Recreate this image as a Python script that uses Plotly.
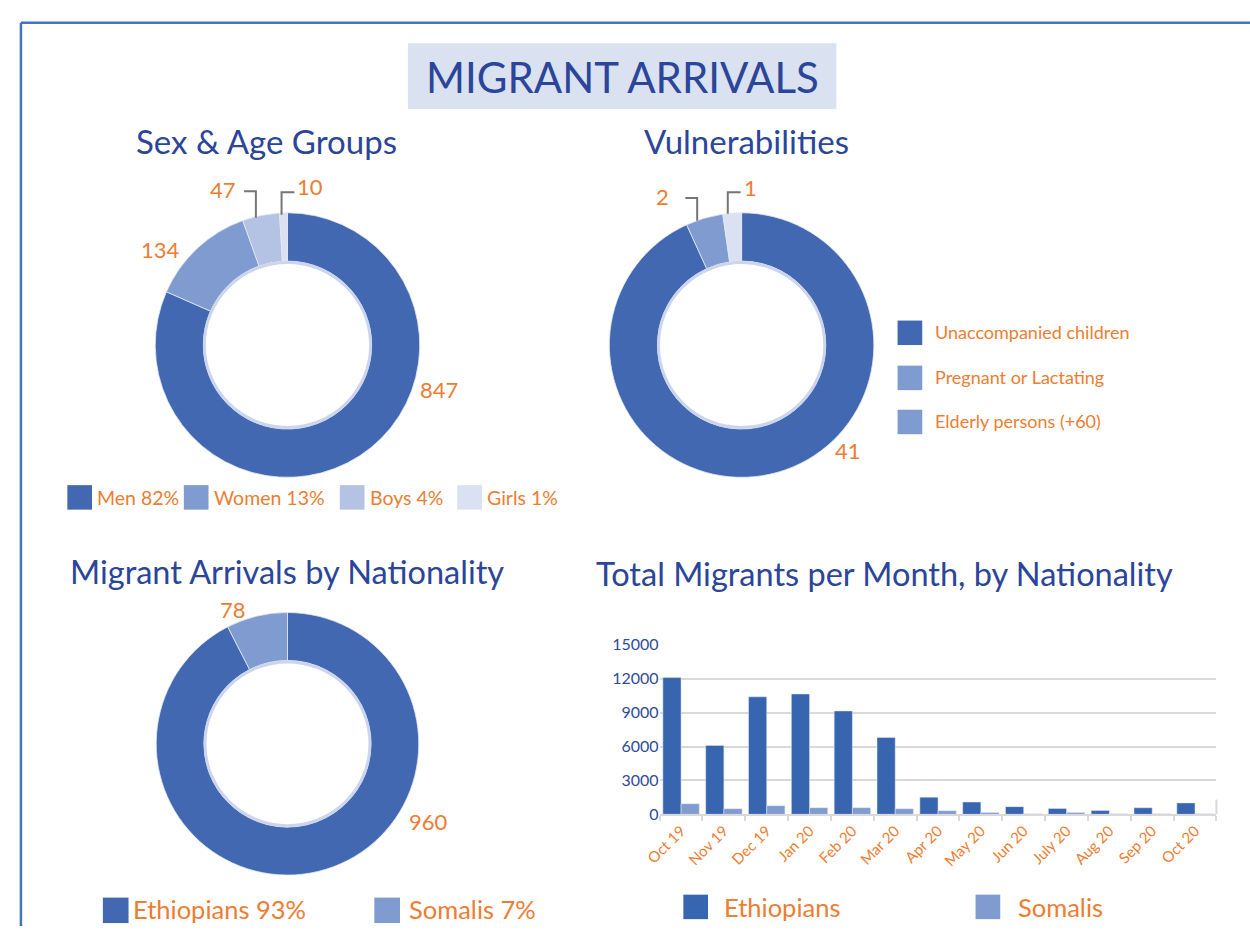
import plotly.graph_objects as go

W, H = 1250, 935
FONT = "Lato"
ORANGE = "#ED7D31"
TITLE_BLUE = "#2A4599"
TICK_BLUE = "#2F4B9A"

# ---------------- data ----------------
sex_labels = ["Men", "Women", "Boys", "Girls"]
sex_values = [847, 134, 47, 10]
sex_pct = ["82%", "13%", "4%", "1%"]
sex_colors = ["#4268B1", "#7F9BCF", "#B4C3E4", "#D9E1F2"]

vul_labels = ["Unaccompanied children", "Pregnant or Lactating", "Elderly persons (+60)"]
vul_values = [41, 2, 1]
vul_colors = ["#4268B1", "#7F9BCF", "#D9E1F2"]
vul_legend_colors = ["#4268B1", "#7F9BCF", "#7F9BCF"]

nat_labels = ["Ethiopians", "Somalis"]
nat_values = [960, 78]
nat_pct = ["93%", "7%"]
nat_colors = ["#4268B1", "#7F9BCF"]

months = ["Oct 19", "Nov 19", "Dec 19", "Jan 20", "Feb 20", "Mar 20", "Apr 20",
          "May 20", "Jun 20", "July 20", "Aug 20", "Sep 20", "Oct 20"]
ethiopians = [12100, 6100, 10400, 10650, 9150, 6800, 1520, 1090, 680, 520, 330, 580, 1010]
somalis = [930, 500, 760, 590, 590, 500, 320, 150, 60, 150, 60, 60, 60]
bar_colors = ["#3865B0", "#7F9BCF"]
yticks = [0, 3000, 6000, 9000, 12000, 15000]


def px(x):
    return x / W


def py(y):
    return 1 - y / H


fig = go.Figure()

# ---------------- donuts ----------------
HOLE = 0.635
donuts = [
    (sex_labels, sex_values, sex_colors, 275, 342, 135),
    (vul_labels, vul_values, vul_colors, 735, 342, 135),
    (nat_labels, nat_values, nat_colors, 275, 749, 134),
]
shapes = []
for labels, values, colors, cx, cy, r in donuts:
    fig.add_trace(go.Pie(
        labels=labels, values=values, hole=HOLE, sort=False, direction="clockwise",
        rotation=0, textinfo="none", showlegend=False,
        marker=dict(colors=colors, line=dict(color="#E3E8F4", width=0.8)),
        domain=dict(x=[px(cx - r), px(cx + r)], y=[py(cy + r), py(cy - r)]),
    ))
    ri = r * HOLE
    shapes.append(dict(type="circle", xref="paper", yref="paper",
                       x0=px(cx - ri + 1.5), x1=px(cx + ri - 1.5),
                       y0=py(cy + ri - 1.5), y1=py(cy - ri + 1.5),
                       line=dict(color="#CCD5EB", width=3), layer="above"))

# ---------------- bar chart ----------------
for name, vals, col in zip(nat_labels, [ethiopians, somalis], bar_colors):
    fig.add_trace(go.Bar(x=months, y=vals, name=name, marker_color=col,
                         showlegend=False, xaxis="x", yaxis="y"))

fig.update_layout(
    xaxis=dict(domain=[px(652), px(1216)], anchor="y", showgrid=False,
               showline=True, linecolor="#D9D9D9", linewidth=2,
               ticks="outside", tickson="boundaries", ticklen=5, tickcolor="#D9D9D9",
               tickwidth=2, tickangle=-45,
               tickfont=dict(family=FONT, size=15, color=ORANGE)),
    yaxis=dict(domain=[py(821), py(648)], anchor="x", range=[0, 15000],
               tickvals=yticks, ticktext=[str(v) for v in yticks],
               showgrid=True, gridcolor="#D9D9D9", gridwidth=2, zeroline=False,
               tickfont=dict(family=FONT, size=16, color=TICK_BLUE)),
    barmode="group", bargap=0.15, bargroupgap=0,
)

# ---------------- frame & title box ----------------
shapes.append(dict(type="line", xref="paper", yref="paper", x0=px(5), x1=1.0,
                   y0=py(13), y1=py(13), line=dict(color="#4472C4", width=2.5)))
shapes.append(dict(type="line", xref="paper", yref="paper", x0=px(5), x1=px(5),
                   y0=py(13), y1=0, line=dict(color="#4472C4", width=2.5)))
shapes.append(dict(type="rect", xref="paper", yref="paper", x0=px(397), x1=px(831),
                   y0=py(101), y1=py(34), fillcolor="#DAE1F0", line=dict(width=0),
                   layer="below"))
shapes.append(dict(type="line", xref="paper", yref="paper", x0=px(1216), x1=px(1216),
                   y0=py(821), y1=py(806), line=dict(color="#D9D9D9", width=2)))

# leader lines
leaders = [
    [(231, 185), (243, 185), (243, 212)],
    [(269, 209), (269, 186), (282, 186)],
    [(678, 192), (690, 192), (690, 215)],
    [(721, 208), (721, 186), (734, 186)],
]
for pts in leaders:
    path = "M " + " L ".join(f"{px(x)},{py(y)}" for x, y in pts)
    shapes.append(dict(type="path", xref="paper", yref="paper", path=path,
                       line=dict(color="#767676", width=2)))

annotations = []


def text(x, y, s, size, color, xanchor="center"):
    annotations.append(dict(x=px(x), y=py(y), xref="paper", yref="paper", text=s,
                            showarrow=False, xanchor=xanchor, yanchor="middle",
                            font=dict(family=FONT, size=size, color=color)))


def square(x0, y0, size, color):
    shapes.append(dict(type="rect", xref="paper", yref="paper", x0=px(x0), x1=px(x0 + size),
                       y0=py(y0 + size), y1=py(y0), fillcolor=color, line=dict(width=0)))


text(614, 68, "MIGRANT ARRIVALS", 42, TITLE_BLUE)
text(254, 134, "Sex &amp; Age Groups", 33, TITLE_BLUE)
text(740, 134, "Vulnerabilities", 33, TITLE_BLUE)
text(275, 573, "Migrant Arrivals by Nationality", 32.5, TITLE_BLUE)
text(880, 575, "Total Migrants per Month, by Nationality", 32.5, TITLE_BLUE)

for (x, y), v in zip([(428, 387), (146, 244), (210, 183), (298, 180)], sex_values):
    text(x, y, str(v), 22, ORANGE)
for (x, y), v in zip([(843, 450), (655, 190), (744, 181)], vul_values):
    text(x, y, str(v), 22, ORANGE)
for (x, y), v in zip([(418, 828), (220, 612)], nat_values):
    text(x, y, str(v), 22, ORANGE)

for (sx, tx), lab, pct, col in zip([(52, 80), (170, 199), (328, 357), (447, 475)],
                                   sex_labels, sex_pct, sex_colors):
    square(sx, 485, 25, col)
    text(tx, 498, f"{lab} {pct}", 19.5, ORANGE, "left")

for yy, lab, col in zip([329, 375, 420], vul_labels, vul_legend_colors):
    square(893, yy - 12, 25, col)
    text(929, yy, lab, 18, ORANGE, "left")

for (sx, tx), lab, pct, col in zip([(88, 116), (363, 396)], nat_labels, nat_pct, nat_colors):
    square(sx, 906, 26, col)
    text(tx, 918, f"{lab} {pct}", 25.5, ORANGE, "left")

for (sx, tx), lab, col in zip([(676, 715), (972, 1013)], nat_labels, bar_colors):
    square(sx, 903, 25, col)
    text(tx, 916, lab, 25.5, ORANGE, "left")

fig.update_layout(
    width=W, height=H, autosize=False,
    margin=dict(l=0, r=0, t=0, b=0),
    paper_bgcolor="white", plot_bgcolor="white",
    font=dict(family=FONT),
    shapes=shapes, annotations=annotations,
)

fig.write_html("out.html", post_script="document.body.style.margin='0px';")
